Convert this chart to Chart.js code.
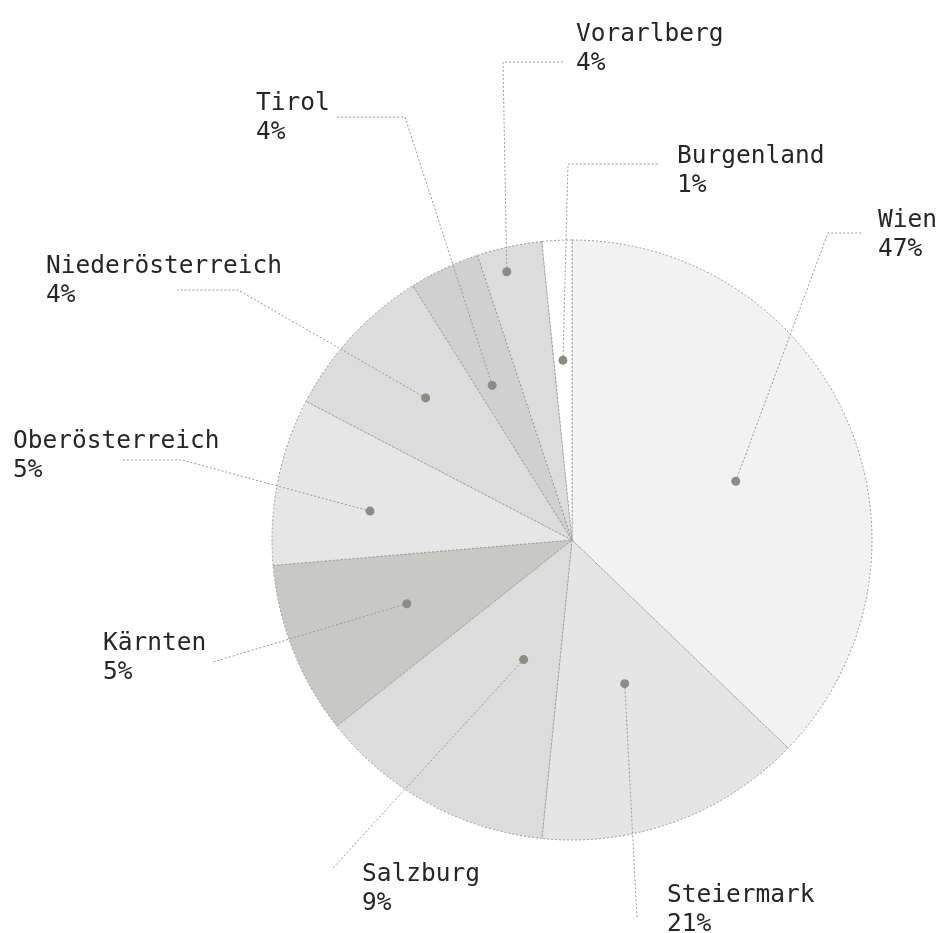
<!DOCTYPE html>
<html lang="de">
<head>
<meta charset="utf-8">
<title>Bundesländer</title>
<script src="https://cdn.jsdelivr.net/npm/chart.js@4.4.1/dist/chart.umd.min.js"></script>
<style>
  html, body { margin: 0; padding: 0; background: #fff; }
  canvas { display: block; }
</style>
</head>
<body>
<canvas id="pieChart" width="938" height="933"></canvas>
<script>
// Categorías, en el orden del gráfico (empezando arriba, sentido horario)
const bundeslaender = ['Wien', 'Steiermark', 'Salzburg', 'Kärnten', 'Oberösterreich', 'Niederösterreich', 'Tirol', 'Vorarlberg', 'Burgenland'];
// Tamaño de cada sector (% del círculo)
const sektorWerte = [37.2, 14.4, 12.75, 9.3, 9.0, 8.45, 3.8, 3.5, 1.6];
// Porcentajes que muestran las etiquetas
const anteile = [47, 21, 9, 5, 5, 4, 4, 4, 1];

// Colores de relleno
const colores = ['#f2f2f2', '#e5e5e5', '#dcdcdc', '#c8c9c4', '#e6e6e6', '#dcdcdc', '#d0d0d0', '#dcdcdc', '#ffffff'];

// Posición del punto (fracción del radio + giro en grados) y de la línea/etiqueta (relativo al centro)
const posiciones = [
  { radio: 0.58, giro: 3.3,  linea: [[256, -307], [291, -307]],  texto: [306, -313] },
  { radio: 0.51, giro: 0,    linea: [[65, 378]],                  texto: [95, 362] },
  { radio: 0.43, giro: -6.7, linea: [[-239, 328]],                texto: [-210, 341] },
  { radio: 0.59, giro: 0.5,  linea: [[-359, 122]],                texto: [-469, 110] },
  { radio: 0.68, giro: -3.2, linea: [[-390, -80], [-451, -80]],   texto: [-559, -92] },
  { radio: 0.68, giro: 1.4,  linea: [[-334, -250], [-395, -250]], texto: [-526, -267] },
  { radio: 0.58, giro: -2.1, linea: [[-167, -423], [-235, -423]], texto: [-316, -430] },
  { radio: 0.92, giro: -1.6, linea: [[-69, -478], [-7, -478]],    texto: [4, -499] },
  { radio: 0.60, giro: 0,    linea: [[-4, -376], [88, -376]],     texto: [105, -377] }
];

// Plugin para dibujar puntos, líneas punteadas y etiquetas
const etiquetasPlugin = {
  id: 'etiquetas',
  afterDatasetsDraw(chart) {
    const ctx = chart.ctx;
    const arcs = chart.getDatasetMeta(0).data;

    arcs.forEach((arc, i) => {
      const p = arc.getProps(['x', 'y', 'startAngle', 'endAngle', 'outerRadius'], true);
      const pos = posiciones[i];
      const ang = (p.startAngle + p.endAngle) / 2 + pos.giro * Math.PI / 180;
      const px = p.x + Math.cos(ang) * p.outerRadius * pos.radio;
      const py = p.y + Math.sin(ang) * p.outerRadius * pos.radio;

      ctx.save();
      // línea punteada
      ctx.strokeStyle = '#9a9a9a';
      ctx.lineWidth = 1;
      ctx.setLineDash([2, 2]);
      ctx.beginPath();
      ctx.moveTo(px, py);
      pos.linea.forEach(([dx, dy]) => ctx.lineTo(p.x + dx, p.y + dy));
      ctx.stroke();

      // punto
      ctx.setLineDash([]);
      ctx.fillStyle = '#8c8c85';
      ctx.beginPath();
      ctx.arc(px, py, 4.5, 0, Math.PI * 2);
      ctx.fill();

      // texto (nombre + porcentaje)
      ctx.fillStyle = '#262626';
      ctx.font = '24.5px "DejaVu Sans Mono", monospace';
      ctx.textAlign = 'left';
      ctx.textBaseline = 'alphabetic';
      const tx = p.x + pos.texto[0];
      const ty = p.y + pos.texto[1];
      ctx.fillText(bundeslaender[i], tx, ty);
      ctx.fillText(anteile[i] + '%', tx, ty + 29);
      ctx.restore();
    });
  }
};

var ctx = document.getElementById('pieChart').getContext('2d');

let pieChart = new Chart(ctx, {
  type: 'pie',
  data: {
    labels: bundeslaender,
    datasets: [{
      data: sektorWerte,
      backgroundColor: colores,
      borderColor: '#9a9a9a',
      borderWidth: 1,
      borderDash: [2, 2]
    }]
  },
  options: {
    responsive: false,
    animation: false,
    radius: 300,
    layout: {
      padding: { left: 272, right: 66, top: 240, bottom: 93 }
    },
    plugins: {
      legend: { display: false },
      tooltip: { enabled: false }
    }
  },
  plugins: [etiquetasPlugin]
});
</script>
</body>
</html>
